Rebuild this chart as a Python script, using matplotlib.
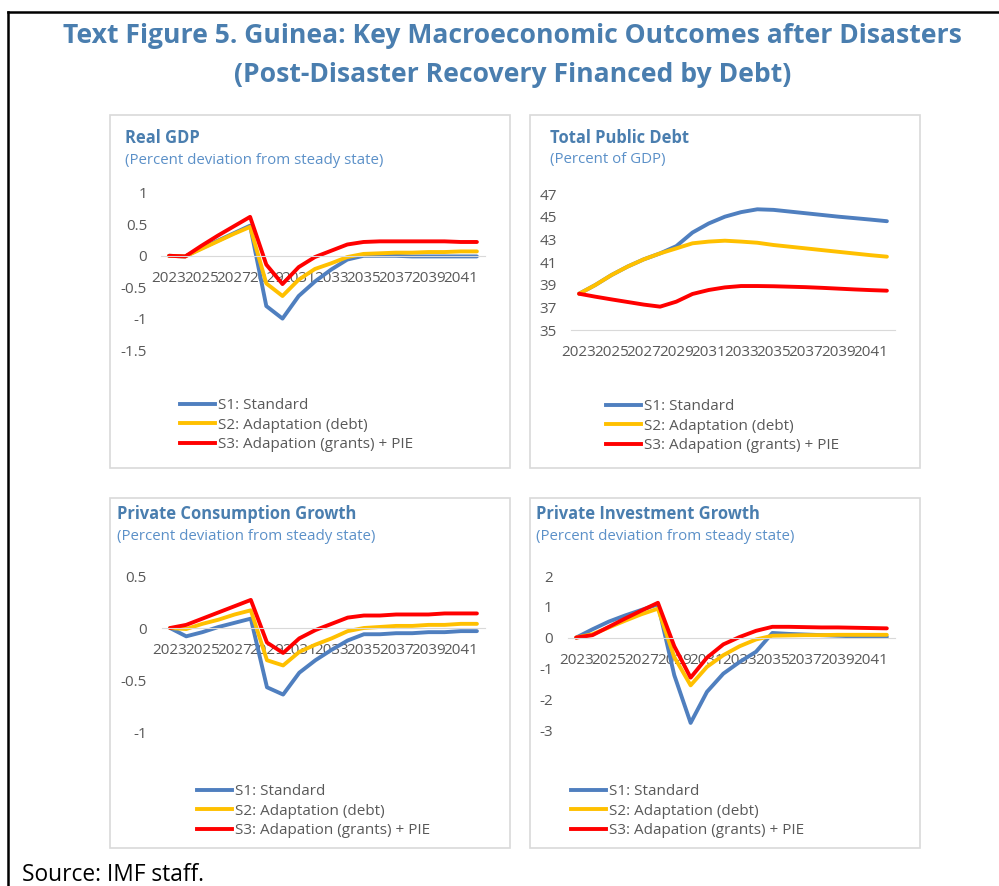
import matplotlib
matplotlib.use("Agg")
import matplotlib.pyplot as plt
from matplotlib.patches import Rectangle
from matplotlib.lines import Line2D

plt.rcParams['font.family'] = ['Open Sans', 'DejaVu Sans']

years = list(range(2023, 2043))
year_labels = [str(y) for y in years[::2]]
series_names = ["S1: Standard", "S2: Adaptation (debt)", "S3: Adapation (grants) + PIE"]

# Real GDP, percent deviation from steady state
gdp_s1 = [0, -0.01, 0.12, 0.24, 0.36, 0.48, -0.80, -1.00, -0.64, -0.41, -0.22, -0.06, 0.00,
          0.00, 0.00, -0.01, -0.01, -0.01, -0.01, -0.01]
gdp_s2 = [0, -0.01, 0.11, 0.23, 0.35, 0.46, -0.44, -0.64, -0.38, -0.21, -0.12, -0.02, 0.03,
          0.04, 0.05, 0.05, 0.06, 0.06, 0.07, 0.07]
gdp_s3 = [0, -0.01, 0.16, 0.32, 0.47, 0.62, -0.14, -0.45, -0.18, -0.02, 0.08, 0.18, 0.22,
          0.23, 0.23, 0.23, 0.23, 0.23, 0.22, 0.22]

# Total public debt, percent of GDP
debt_s1 = [38.2, 38.97, 39.85, 40.6, 41.24, 41.76, 42.4, 43.6, 44.4, 45.0, 45.4, 45.65, 45.6,
           45.45, 45.3, 45.15, 45.0, 44.87, 44.74, 44.6]
debt_s2 = [38.2, 38.97, 39.85, 40.6, 41.24, 41.76, 42.2, 42.65, 42.8, 42.88, 42.8, 42.7, 42.5,
           42.35, 42.2, 42.05, 41.9, 41.75, 41.6, 41.47]
debt_s3 = [38.2, 37.94, 37.7, 37.47, 37.24, 37.06, 37.5, 38.18, 38.53, 38.76, 38.88, 38.88, 38.86,
           38.82, 38.78, 38.72, 38.65, 38.58, 38.52, 38.47]

# Private consumption growth
cons_s1 = [0, -0.08, -0.04, 0.01, 0.05, 0.09, -0.57, -0.64, -0.43, -0.31, -0.21, -0.12, -0.06,
           -0.06, -0.05, -0.05, -0.04, -0.04, -0.03, -0.03]
cons_s2 = [0, -0.01, 0.04, 0.08, 0.13, 0.17, -0.31, -0.36, -0.23, -0.16, -0.10, -0.03, 0.00,
           0.01, 0.02, 0.02, 0.03, 0.03, 0.04, 0.04]
cons_s3 = [0, 0.03, 0.09, 0.15, 0.21, 0.27, -0.14, -0.24, -0.10, -0.02, 0.04, 0.10, 0.12,
           0.12, 0.13, 0.13, 0.13, 0.14, 0.14, 0.14]

# Private investment growth
inv_s1 = [0, 0.27, 0.52, 0.72, 0.90, 1.08, -1.22, -2.77, -1.76, -1.17, -0.79, -0.46, 0.15,
          0.12, 0.10, 0.08, 0.06, 0.04, 0.03, 0.02]
inv_s2 = [0, 0.11, 0.33, 0.55, 0.76, 0.94, -0.63, -1.55, -0.95, -0.57, -0.28, -0.06, 0.06,
          0.07, 0.08, 0.08, 0.09, 0.09, 0.09, 0.09]
inv_s3 = [0, 0.08, 0.35, 0.62, 0.88, 1.13, -0.28, -1.30, -0.65, -0.22, 0.02, 0.22, 0.35,
          0.35, 0.34, 0.33, 0.33, 0.32, 0.31, 0.30]

colors = ['#4F7FBF', '#FFC000', '#FF0000']
title_blue = '#4A7EAF'
sub_blue = '#5B90C8'
gray = '#595959'

W, H = 999, 886
fig = plt.figure(figsize=(W / 100, H / 100), dpi=100)


def fx(px):
    return px / W


def fy(py):
    return 1 - py / H


def panel(box, plot, title, subtitle, title_xy, data, ylim, yticks, ylabels, legend_xy, ypad):
    # box: (left, top, right, bottom) in pixels
    l, t, r, b = box
    fig.patches.append(Rectangle((fx(l), fy(b)), fx(r - l), (b - t) / H, transform=fig.transFigure,
                                 fill=False, edgecolor='#D9D9D9', lw=1.2))
    fig.text(fx(title_xy[0]), fy(title_xy[1]), title, fontsize=11.9, fontweight='bold',
             color=title_blue, va='center', ha='left')
    fig.text(fx(title_xy[0]), fy(title_xy[1] + 22), subtitle, fontsize=10.8,
             color=sub_blue, va='center', ha='left')

    pl, pt, pr, pb = plot
    ax = fig.add_axes([fx(pl), fy(pb), fx(pr - pl), (pb - pt) / H])
    x = list(range(len(years)))
    for vals, c, name in zip(data, colors, series_names):
        ax.plot(x, vals, color=c, lw=2.8, label=name, solid_capstyle='round')
    ax.set_xlim(-0.5, len(years) - 0.5)
    ax.set_ylim(*ylim)
    ax.set_yticks(yticks)
    ax.set_yticklabels(ylabels)
    ax.set_xticks(x[::2])
    ax.set_xticklabels(year_labels)
    for s in ['top', 'right', 'left']:
        ax.spines[s].set_visible(False)
    ax.spines['bottom'].set_color('#D9D9D9')
    ax.spines['bottom'].set_position(('data', ylim[0] if ylim[0] > 0 else 0))
    ax.tick_params(axis='both', length=0, labelsize=11, labelcolor=gray)
    ax.tick_params(axis='x', pad=11)
    ax.tick_params(axis='y', pad=ypad)
    ax.patch.set_alpha(0)

    handles = [Line2D([], [], color=c, lw=2.8) for c in colors]
    ax.legend(handles, series_names, loc='upper left', bbox_to_anchor=(fx(legend_xy[0]), fy(legend_xy[1])),
              bbox_transform=fig.transFigure, frameon=False, fontsize=11, labelcolor=gray,
              handlelength=2.3, handletextpad=0.2, labelspacing=0.3, borderpad=0, borderaxespad=0)
    return ax


panel((110, 115, 510, 468), (161, 193, 485, 350), "Real GDP", "(Percent deviation from steady state)",
      (125, 138), [gdp_s1, gdp_s2, gdp_s3], (-1.5, 1), [-1.5, -1, -0.5, 0, 0.5, 1],
      ['-1.5', '-1', '-0.5', '0', '0.5', '1'], (180, 398), 10)

panel((530, 115, 920, 468), (571, 194, 895, 330), "Total Public Debt", "(Percent of GDP)",
      (550, 138), [debt_s1, debt_s2, debt_s3], (35, 47), [35, 37, 39, 41, 43, 45, 47],
      ['35', '37', '39', '41', '43', '45', '47'], (606, 399), 10)

panel((110, 498, 510, 848), (162, 576, 485, 732), "Private Consumption Growth", "(Percent deviation from steady state)",
      (117, 514), [cons_s1, cons_s2, cons_s3], (-1, 0.5), [-1, -0.5, 0, 0.5],
      ['-1', '-0.5', '0', '0.5'], (197, 784), 11)

panel((530, 498, 920, 848), (568, 576, 895, 730), "Private Investment Growth", "(Percent deviation from steady state)",
      (536, 514), [inv_s1, inv_s2, inv_s3], (-3, 2), [-3, -2, -1, 0, 1, 2],
      ['-3', '-2', '-1', '0', '1', '2'], (571, 784), 11)

fig.text(0.513, fy(36), "Text Figure 5. Guinea: Key Macroeconomic Outcomes after Disasters",
         fontsize=19.1, fontweight='bold', color=title_blue, ha='center', va='center')
fig.text(0.513, fy(75), "(Post-Disaster Recovery Financed by Debt)",
         fontsize=19.1, fontweight='bold', color=title_blue, ha='center', va='center')

fig.text(fx(22), fy(875), "Source: IMF staff.", fontsize=16.4, color='black', ha='left', va='center')

# outer frame (left and top edges)
fig.add_artist(Line2D([fx(8), fx(8)], [0, fy(12)], color='black', lw=1.8, transform=fig.transFigure))
fig.add_artist(Line2D([fx(8), 1], [fy(12), fy(12)], color='black', lw=1.8, transform=fig.transFigure))

fig.savefig("out.png", dpi=100)
